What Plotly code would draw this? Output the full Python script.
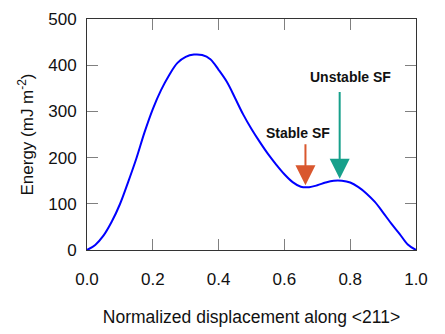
import plotly.graph_objects as go

# data
disp = [0, 0.025, 0.05, 0.075, 0.1, 0.125, 0.15, 0.175, 0.2, 0.225, 0.25,
        0.275, 0.3, 0.325, 0.35, 0.375, 0.4, 0.425, 0.45, 0.475, 0.5,
        0.525, 0.55, 0.575, 0.6, 0.625, 0.65, 0.675, 0.7, 0.725, 0.75,
        0.775, 0.8, 0.825, 0.85, 0.875, 0.9, 0.925, 0.95, 0.975, 1.0]
energy = [0, 11, 31, 61, 99, 147, 198, 255, 305, 346, 379,
          405, 418, 423, 422, 413, 390, 364, 329, 293, 262,
          234, 208, 185, 164, 147, 137, 136, 140, 146, 150,
          150, 146, 136, 122, 104, 81, 57, 35, 12, 0]
x_ticks = [0.0, 0.2, 0.4, 0.6, 0.8, 1.0]
x_tick_labels = ["0.0", "0.2", "0.4", "0.6", "0.8", "1.0"]
y_ticks = [0, 100, 200, 300, 400, 500]
y_tick_labels = ["0", "100", "200", "300", "400", "500"]

# positions pointed at by the arrows (stable / unstable stacking fault)
stable_sf = (0.664, 136)
unstable_sf = (0.768, 150)

FONT = "Liberation Sans, Arial, sans-serif"

fig = go.Figure()
fig.add_trace(go.Scatter(
    x=disp, y=energy, mode="lines",
    line=dict(color="#0000ff", width=2, shape="spline", smoothing=1.0),
    hoverinfo="skip", showlegend=False,
))

# arrows
fig.add_annotation(
    x=stable_sf[0], y=stable_sf[1] + 4,
    ax=stable_sf[0], ay=232, axref="x", ayref="y", xref="x", yref="y",
    showarrow=True, arrowhead=2, arrowsize=2.0, arrowwidth=2,
    arrowcolor="#d9572e", text="",
)
fig.add_annotation(
    x=unstable_sf[0], y=unstable_sf[1] + 4,
    ax=unstable_sf[0], ay=345, axref="x", ayref="y", xref="x", yref="y",
    showarrow=True, arrowhead=2, arrowsize=2.0, arrowwidth=2,
    arrowcolor="#17a08b", text="",
)
fig.add_annotation(
    x=0.64, y=253, xref="x", yref="y", text="<b>Stable SF</b>", showarrow=False,
    font=dict(family=FONT, size=14, color="#111111"),
)
fig.add_annotation(
    x=0.802, y=374, xref="x", yref="y", text="<b>Unstable SF</b>", showarrow=False,
    font=dict(family=FONT, size=14, color="#111111"),
)

axis_common = dict(
    showgrid=False, zeroline=False, automargin=False,
    showline=True, linecolor="#333333", linewidth=1, mirror="ticks",
    ticks="inside", ticklen=11, tickwidth=1.2, tickcolor="#808080",
    tickfont=dict(family=FONT, size=17, color="#111111"),
)

fig.update_xaxes(
    range=[0, 1], tickvals=x_ticks, ticktext=x_tick_labels,
    title=dict(text="Normalized displacement along &lt;211&gt;",
               font=dict(family=FONT, size=17.5, color="#111111"), standoff=22),
    ticklabelstandoff=14,
    **axis_common,
)
fig.update_yaxes(
    range=[0, 500], tickvals=y_ticks, ticktext=y_tick_labels,
    title=dict(text="Energy (mJ m<sup>-2</sup>)",
               font=dict(family=FONT, size=17, color="#111111"), standoff=10),
    ticklabelstandoff=6,
    **axis_common,
)

# the page adds an 8px body margin, so the figure is 8px smaller than the window
fig.update_layout(
    width=437, height=326,
    margin=dict(l=79, r=29, t=11, b=84),
    paper_bgcolor="white", plot_bgcolor="white",
)

fig.write_html("out.html")
